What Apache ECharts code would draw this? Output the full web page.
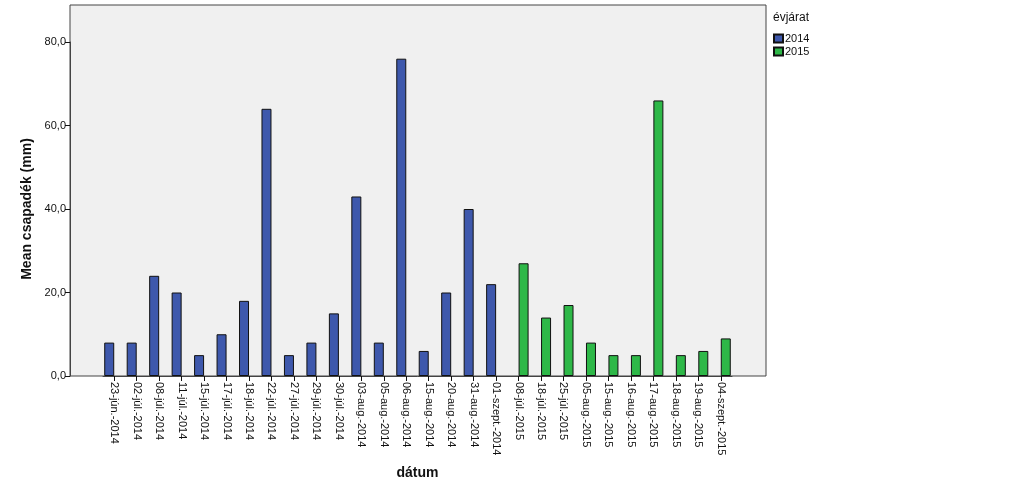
<!DOCTYPE html>
<html>
<head>
<meta charset="utf-8">
<script src="https://cdn.jsdelivr.net/npm/echarts@6/dist/echarts.min.js"></script>
<style>
  html, body { margin: 0; padding: 0; background: #ffffff; }
  #chart { width: 1023px; height: 495px; }
</style>
</head>
<body>
<div id="chart"></div>
<script>
const categories = [
  '23-jún.-2014', '02-júl.-2014', '08-júl.-2014', '11-júl.-2014', '15-júl.-2014',
  '17-júl.-2014', '18-júl.-2014', '22-júl.-2014', '27-júl.-2014', '29-júl.-2014',
  '30-júl.-2014', '03-aug.-2014', '05-aug.-2014', '06-aug.-2014', '15-aug.-2014',
  '20-aug.-2014', '31-aug.-2014', '01-szept.-2014',
  '08-júl.-2015', '18-júl.-2015', '25-júl.-2015', '05-aug.-2015', '15-aug.-2015',
  '16-aug.-2015', '17-aug.-2015', '18-aug.-2015', '19-aug.-2015', '04-szept.-2015'
];
const values2014 = [8, 8, 24, 20, 5, 10, 18, 64, 5, 8, 15, 43, 8, 76, 6, 20, 40, 22];
const values2015 = [27, 14, 17, 8, 5, 5, 66, 5, 6, 9];
const seriesNames = ['2014', '2015'];
const yTicks = [0, 20, 40, 60, 80];

const n2014 = values2014.length;
const data2014 = categories.map((c, i) => i < n2014 ? values2014[i] : null);
const data2015 = categories.map((c, i) => i >= n2014 ? values2015[i - n2014] : null);

const chart = echarts.init(document.getElementById('chart'), null, { renderer: 'canvas' });
const font = 'Liberation Sans, Arial, sans-serif';

chart.setOption({
  animation: false,
  backgroundColor: '#ffffff',
  textStyle: { fontFamily: font },
  title: {
    text: 'évjárat',
    left: 773, top: 12, padding: 0,
    textStyle: { fontFamily: font, fontSize: 12, fontWeight: 'normal', color: '#111' }
  },
  legend: {
    orient: 'vertical',
    left: 773, top: 33, padding: 0,
    itemWidth: 9, itemHeight: 8, itemGap: 2,
    icon: 'rect',
    textStyle: { fontFamily: font, fontSize: 11, color: '#111', padding: [0, 0, 0, -3] },
    data: seriesNames
  },
  grid: [
    { left: 70, right: 257, top: 5, bottom: 119, show: true, backgroundColor: '#f0f0f0',
      borderColor: '#444', borderWidth: 1 },
    { left: 103, right: 291, top: 42, bottom: 119 }
  ],
  xAxis: [
    { gridIndex: 0, type: 'category', data: [], show: false },
    {
      gridIndex: 1, type: 'category', data: categories,
      axisLine: { show: true, lineStyle: { color: '#444', width: 1 } },
      axisTick: { show: true, alignWithLabel: true, length: 5, lineStyle: { color: '#111' } },
      axisLabel: { rotate: -90, interval: 0, fontSize: 11, color: '#111', margin: 6, fontFamily: font },
      name: 'dátum', nameLocation: 'middle', nameGap: 90,
      nameTextStyle: { fontFamily: font, fontSize: 14, fontWeight: 'bold', color: '#111' }
    }
  ],
  yAxis: [
    { gridIndex: 0, type: 'value', show: false, splitLine: { show: false } },
    {
      gridIndex: 1, type: 'value', min: 0, max: 80, interval: 20, offset: 33,
      axisLine: { show: true, lineStyle: { color: '#444', width: 1 } },
      axisTick: { show: true, length: 5, lineStyle: { color: '#111' } },
      splitLine: { show: false },
      axisLabel: {
        fontSize: 11, color: '#111', margin: 4, fontFamily: font,
        formatter: v => v.toFixed(1).replace('.', ',')
      },
      name: 'Mean csapadék (mm)', nameLocation: 'middle', nameGap: 36,
      nameTextStyle: { fontFamily: font, fontSize: 14, fontWeight: 'bold', color: '#111' }
    }
  ],
  series: [
    {
      name: seriesNames[0], type: 'bar', xAxisIndex: 1, yAxisIndex: 1,
      data: data2014, barWidth: 10, barGap: '0%',
      itemStyle: { color: '#3e58ac', borderColor: '#111', borderWidth: 1 }
    },
    {
      name: seriesNames[1], type: 'bar', xAxisIndex: 1, yAxisIndex: 1,
      data: data2015, barWidth: 10, barGap: '0%',
      itemStyle: { color: '#2eb848', borderColor: '#111', borderWidth: 1 }
    }
  ]
});
</script>
</body>
</html>
